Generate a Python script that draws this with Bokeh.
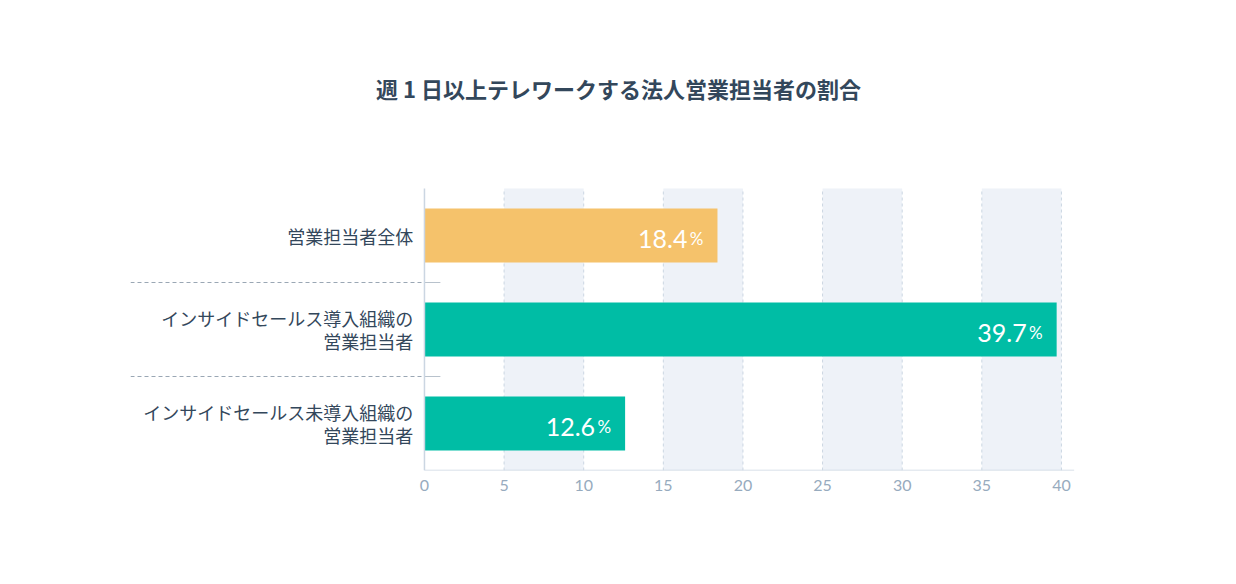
from bokeh.plotting import figure
from bokeh.models import Range1d, FixedTicker, ColumnDataSource
from bokeh.core.properties import value
from bokeh.embed import file_html
from bokeh.resources import INLINE

# ---- data ----
categories = ["営業担当者全体", "インサイドセールス導入組織の\n営業担当者", "インサイドセールス未導入組織の\n営業担当者"]
values = [18.4, 39.7, 12.6]
bar_colors = ["#f5c26b", "#00bda5", "#00bda5"]
x_ticks = [0, 5, 10, 15, 20, 25, 30, 35, 40]
band_starts = [5, 15, 25, 35]
band_width = 5
title_text = "週 1 日以上テレワークする法人営業担当者の割合"

n = len(categories)
ypos = [n - 0.5 - i for i in range(n)]  # top first
labels_num = ["%.1f" % v for v in values]

# layout (pixels)
W, H = 1220, 568
frame_top_px, cat_px = 188, 94          # frame top of the bar area, pixels per category
title_center_px = 87
x0_, x1_ = -18.46, 42.83
y_top = n + frame_top_px / cat_px       # extra room above bars for the title

p = figure(width=W, height=H, output_backend="svg", toolbar_location=None,
           x_range=Range1d(x0_, x1_), y_range=Range1d(0, y_top),
           min_border_left=130, min_border_right=114, min_border_top=0, min_border_bottom=98)

p.outline_line_color = None
p.background_fill_color = "white"
p.border_fill_color = "white"
p.xgrid.visible = False
p.ygrid.visible = False
p.yaxis.visible = False

# x axis
p.xaxis.ticker = FixedTicker(ticks=x_ticks)
p.xaxis.axis_line_color = None
p.xaxis.major_tick_line_color = None
p.xaxis.minor_tick_line_color = None
p.xaxis.major_label_text_font = "Lato"
p.xaxis.major_label_text_font_size = "16px"
p.xaxis.major_label_text_color = "#97abbe"
p.xaxis.major_label_standoff = 3

# title
p.text(x=[(x0_ + x1_) / 2], y=[y_top - title_center_px / cat_px], text=[title_text],
       text_align="center", text_baseline="middle", text_font=value("Noto Sans CJK JP"),
       text_font_size="22px", text_font_style="bold", text_color="#33475b")

# bands
p.vbar(x=[b + band_width / 2 for b in band_starts], width=band_width, bottom=0, top=n,
       fill_color="#eef2f8", line_color=None)
# dashed vertical gridlines
gx = x_ticks[1:]
p.segment(x0=gx, y0=[0] * len(gx), x1=gx, y1=[n] * len(gx),
          line_color="#cbd6e2", line_dash="3 3", line_width=1)

# separators
sep_y = list(range(1, n))
p.segment(x0=[x0_] * len(sep_y), y0=sep_y, x1=[0] * len(sep_y), y1=sep_y,
          line_color="#9aa7b4", line_dash="4 3", line_width=1)
p.segment(x0=[0] * len(sep_y), y0=sep_y, x1=[1.0] * len(sep_y), y1=sep_y,
          line_color="#b8c2cc", line_width=1)

# bars
src = ColumnDataSource(dict(y=ypos, v=values, c=bar_colors, cat=categories, num=labels_num,
                            pct=["%"] * n))
p.hbar(y="y", right="v", left=0, height=0.575, fill_color="c", line_color=None, source=src)

# axis lines
p.segment(x0=[0], y0=[0], x1=[0], y1=[n], line_color="#cbd6e2", line_width=1.5)
p.segment(x0=[0], y0=[0], x1=[40.8], y1=[0], line_color="#cbd6e2", line_width=1.5)

# category labels
p.text(x=-0.7, y="y", text="cat", source=src, text_align="right", text_baseline="middle",
       text_font=value("Noto Sans CJK JP"), text_font_size="18px", text_color="#33475b",
       text_line_height=0.9)

# value labels
p.text(x="v", y="y", text="pct", source=src, x_offset=-14, y_offset=3, text_align="right",
       text_baseline="alphabetic", text_font=value("Lato"), text_font_size="17px", text_color="white")
p.text(x="v", y="y", text="num", source=src, x_offset=-30, y_offset=3, text_align="right",
       text_baseline="alphabetic", text_font=value("Lato"), text_font_size="25px", text_color="white")

open("out.html", "w").write(file_html(p, INLINE))
